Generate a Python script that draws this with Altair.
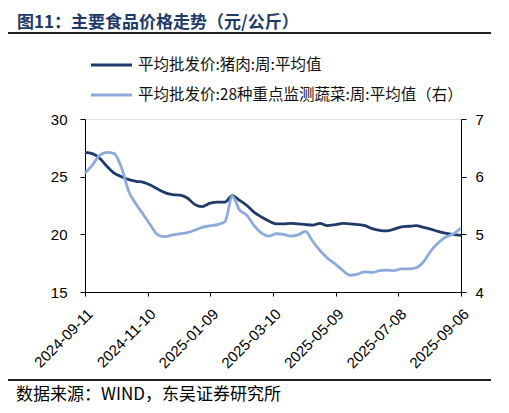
import altair as alt
import pandas as pd

pork = [27.1, 27.0, 26.6, 25.9, 25.3, 25.0, 24.75, 24.6, 24.5, 24.25,
        23.9, 23.6, 23.45, 23.4, 23.15, 22.6, 22.4, 22.7, 22.8, 22.8,
        23.35, 22.95, 22.5, 21.9, 21.5, 21.15, 20.9, 20.9, 20.95, 20.9,
        20.85, 20.8, 20.95, 20.75, 20.85, 20.95, 20.9, 20.85, 20.75, 20.5,
        20.35, 20.3, 20.45, 20.65, 20.7, 20.75, 20.6, 20.45, 20.25, 20.1,
        20.0, 19.9]
veg = [6.06, 6.2, 6.37, 6.42, 6.40, 6.15, 5.74, 5.52, 5.34, 5.15,
       4.99, 4.96, 4.99, 5.01, 5.03, 5.07, 5.12, 5.15, 5.17, 5.22,
       5.66, 5.42, 5.33, 5.15, 5.02, 4.97, 5.01, 5.0, 4.97, 4.99,
       5.05, 4.88, 4.72, 4.59, 4.48, 4.37, 4.29, 4.31, 4.35, 4.34,
       4.37, 4.38, 4.37, 4.40, 4.40, 4.42, 4.52, 4.71, 4.85, 4.95,
       5.0, 5.11]
dates = pd.date_range("2024-09-11", "2025-09-06", periods=len(pork)).normalize()
tick_dates = ["2024-09-11", "2024-11-10", "2025-01-09", "2025-03-10",
              "2025-05-09", "2025-07-08", "2025-09-06"]

title_text = "图11：主要食品价格走势（元/公斤）"
legend_labels = ["平均批发价:猪肉:周:平均值", "平均批发价:28种重点监测蔬菜:周:平均值（右）"]
source_text = "数据来源：WIND，东吴证券研究所"

C_DARK = "#1F3A68"
C_LIGHT = "#8EAADC"
LAT = "Liberation Sans"
CJK = "Noto Sans CJK SC"

df = pd.DataFrame({"date": dates, "pork": pork, "veg": veg})


def dt(s):
    y, m, d = map(int, s.split("-"))
    return alt.DateTime(year=y, month=m, date=d)


xenc = alt.X("date:T",
             scale=alt.Scale(domain=[dt(tick_dates[0]), dt(tick_dates[-1])]),
             axis=alt.Axis(values=[dt(s) for s in tick_dates], format="%Y-%m-%d",
                           labelAngle=-45, labelAlign="right", labelBaseline="top",
                           labelFont=LAT, labelFontSize=15, labelColor="#000",
                           domainColor="#000", tickColor="#000", tickSize=4,
                           grid=False, title=None, labelPadding=10, labelOverlap=False))

base = alt.Chart(df)
l_pork = base.mark_line(color=C_DARK, strokeWidth=2.8, interpolate="monotone").encode(
    x=xenc,
    y=alt.Y("pork:Q", scale=alt.Scale(domain=[15, 30], nice=False, zero=False),
            axis=alt.Axis(values=[15, 20, 25, 30], orient="left", grid=False, title=None,
                          labelFont=LAT, labelFontSize=15, labelColor="#000",
                          domainColor="#000", tickColor="#000", tickSize=5, labelPadding=13)))
l_veg = base.mark_line(color=C_LIGHT, strokeWidth=2.8, interpolate="monotone").encode(
    x=xenc,
    y=alt.Y("veg:Q", scale=alt.Scale(domain=[4, 7], nice=False, zero=False),
            axis=alt.Axis(values=[4, 5, 6, 7], orient="right", grid=False, title=None,
                          labelFont=LAT, labelFontSize=15, labelColor="#000",
                          domainColor="#000", tickColor="#000", tickSize=5, labelPadding=9)))

lines = alt.layer(l_pork, l_veg).resolve_scale(y="independent")

one = pd.DataFrame({"a": [0]})
ann = alt.Chart(one)

title = ann.mark_text(align="left", baseline="alphabetic", font=CJK, fontSize=17,
                      fontWeight="bold", color="#1F3A68").encode(
    x=alt.value(-68), y=alt.value(-91), text=alt.value(title_text))
rule_top = ann.mark_rule(color="#222", strokeWidth=2).encode(
    x=alt.value(-80), x2=alt.value(419), y=alt.value(-86))
rule_bot = ann.mark_rule(color="#222", strokeWidth=2).encode(
    x=alt.value(-80), x2=alt.value(419), y=alt.value(261))
source = ann.mark_text(align="left", baseline="middle", font=CJK, fontSize=17,
                       color="#000").encode(
    x=alt.value(-69), y=alt.value(276), text=alt.value(source_text))
leg1 = ann.mark_rule(color=C_DARK, strokeWidth=3).encode(
    x=alt.value(6), x2=alt.value(47), y=alt.value(-54))
leg2 = ann.mark_rule(color=C_LIGHT, strokeWidth=3).encode(
    x=alt.value(6), x2=alt.value(47), y=alt.value(-24))
leg1t = ann.mark_text(align="left", baseline="middle", font=CJK, fontSize=15.5,
                      color="#111").encode(
    x=alt.value(53), y=alt.value(-54), text=alt.value(legend_labels[0]))
leg2t = ann.mark_text(align="left", baseline="middle", font=CJK, fontSize=15.5,
                      color="#111").encode(
    x=alt.value(53), y=alt.value(-24), text=alt.value(legend_labels[1]))

chart = alt.layer(lines, title, rule_top, rule_bot, source, leg1, leg2, leg1t, leg2t).properties(
    width=376, height=173,
    autosize=alt.AutoSizeParams(type="none"),
    padding={"left": 77, "top": 111, "right": 30, "bottom": 113},
).configure_view(stroke=None).configure(background="white")

chart.save("out.html", embed_options={"renderer": "svg", "actions": False})
